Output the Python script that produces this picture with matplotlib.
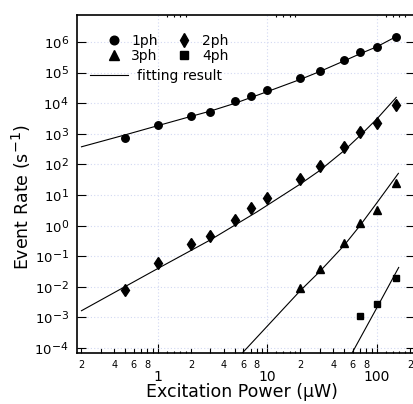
import matplotlib
matplotlib.use("Agg")
import matplotlib.pyplot as plt
from matplotlib.lines import Line2D
from matplotlib.ticker import FixedLocator, FuncFormatter, NullLocator, LogLocator, LogFormatterMathtext, NullFormatter

try:
    import matplotlib._mathtext as _mt
    _mt.SHRINK_FACTOR = 0.82
except Exception:
    pass

plt.rcParams['font.family'] = ['DejaVu Sans']
plt.rcParams['mathtext.fontset'] = 'dejavusans'

# ---------------- data ----------------
p1 = [0.5, 1, 2, 3, 5, 7, 10, 20, 30, 50, 70, 100, 150]
r1 = [740, 1950, 3900, 5300, 11400, 17800, 26000, 65000, 112000, 250000, 470000, 680000, 1450000]

p2 = [0.5, 1, 2, 3, 5, 7, 10, 20, 30, 50, 70, 100, 150]
r2 = [0.0078, 0.06, 0.26, 0.47, 1.57, 3.8, 8.2, 34, 87, 360, 1120, 2300, 9000]

p3 = [20, 30, 50, 70, 100, 150]
r3 = [0.009, 0.038, 0.27, 1.19, 3.2, 25]

p4 = [70, 100, 150]
r4 = [0.0011, 0.0027, 0.020]

fit1_p = [0.2, 0.5, 1, 2, 3, 5, 10, 20, 30, 50, 70, 100, 150]
fit1_r = [376, 920, 1850, 3700, 5500, 9800, 24000, 60000, 108000, 240000, 410000, 700000, 1500000]

fit2_p = [0.2, 1, 3, 8, 20, 30, 50, 70, 100, 150]
fit2_r = [1.66e-3, 0.040, 0.34, 2.8, 23, 63, 280, 870, 3070, 15500]

fit3_p = [5.8, 20, 30, 50, 70, 100, 157]
fit3_r = [6.5e-5, 7.6e-3, 0.0316, 0.224, 1.0, 5.6, 51]

fit4_p = [58, 100, 158]
fit4_r = [6.0e-5, 2.1e-3, 0.043]

x_major = [1, 10, 100]
x_major_labels = ['1', '10', '100']
x_minor = [m * 10 ** e for e in (-1, 0, 1, 2) for m in range(2, 10)]
x_tiny = [m * 10 ** e for e in (-1, 0, 1, 2) for m in (1.2, 1.4, 1.6, 1.8)]
x_minor_labelled = [2, 4, 6, 8]

xlim = (0.182, 225)
ylim = (6.9e-5, 7.6e6)

# ---------------- figure ----------------
W, H = 414, 404
fig = plt.figure(figsize=(W / 100, H / 100), dpi=100)
ax = fig.add_axes([77 / W, 51 / H, 338.5 / W, 338 / H])
ax.set_xscale('log')
ax.set_yscale('log')
ax.set_xlim(*xlim)
ax.set_ylim(*ylim)

ax.grid(True, which='major', color='#d2d8f2', linestyle=(0, (1, 2)), linewidth=0.8, zorder=0)

lw = 0.8
ax.plot(fit1_p, fit1_r, color='black', lw=lw, zorder=2)
ax.plot(fit2_p, fit2_r, color='black', lw=lw, zorder=2)
ax.plot(fit3_p, fit3_r, color='black', lw=lw, zorder=2)
ax.plot(fit4_p, fit4_r, color='black', lw=lw, zorder=2)

ax.plot(p1, r1, 'o', color='black', ms=5.4, zorder=3)
ax.plot(p2, r2, 'd', color='black', ms=6.6, zorder=3)
ax.plot(p3, r3, '^', color='black', ms=5.8, zorder=3)
ax.plot(p4, r4, 's', color='black', ms=5.0, zorder=3)

# ticks
ax.xaxis.set_major_locator(FixedLocator(x_major))
ax.xaxis.set_major_formatter(FuncFormatter(lambda v, pos: x_major_labels[x_major.index(round(v))] if round(v) in x_major else ''))
ax.xaxis.set_minor_locator(FixedLocator([v for v in x_minor if xlim[0] <= v <= xlim[1]]))


def minor_fmt(v, pos):
    lead = round(v / 10 ** int(f"{v:e}".split('e')[1]))
    return str(lead) if lead in x_minor_labelled else ''


ax.xaxis.set_minor_formatter(FuncFormatter(minor_fmt))
ax.yaxis.set_major_locator(LogLocator(base=10, numticks=20))
ax.yaxis.set_major_formatter(LogFormatterMathtext())
ax.yaxis.set_minor_locator(NullLocator())

ax.tick_params(axis='x', which='major', direction='in', length=6.5, width=0.8,
               top=True, bottom=True, labelsize=10, pad=12.3)
ax.tick_params(axis='x', which='minor', direction='in', length=3.5, width=0.8,
               top=True, bottom=True, labelsize=7, pad=5.0)
ax.tick_params(axis='y', which='major', direction='in', length=6.5, width=0.8,
               left=True, right=True, labelsize=9.5, pad=6)

for s in ax.spines.values():
    s.set_linewidth(1.2)

# tiny ticks
ax2 = ax.twiny()
ax2.set_xscale('log')
ax2.set_xlim(*xlim)
ax2.xaxis.set_major_locator(FixedLocator([v for v in x_tiny if xlim[0] <= v <= xlim[1]]))
ax2.xaxis.set_minor_locator(NullLocator())
ax2.xaxis.set_major_formatter(NullFormatter())
ax2.tick_params(axis='x', which='major', direction='in', length=1.6, width=0.8,
                top=True, bottom=True, labeltop=False, labelbottom=False)
for s in ax2.spines.values():
    s.set_visible(False)

# labels
ax.set_xlabel('Excitation Power (μW)', fontsize=12.5)
ax.xaxis.set_label_coords(0.488, -0.088)
ax.xaxis.label.set_va('top')
ax.set_ylabel('Event Rate (s$^{-1}$)', fontsize=12.5)
ax.yaxis.set_label_coords(-0.131, 0.46)

# legends
h1 = Line2D([], [], marker='o', color='black', ls='none', ms=6.2)
h2 = Line2D([], [], marker='d', color='black', ls='none', ms=7.2)
h3 = Line2D([], [], marker='^', color='black', ls='none', ms=6.6)
h4 = Line2D([], [], marker='s', color='black', ls='none', ms=5.8)
hf = Line2D([], [], color='black', lw=lw)

leg1 = ax.legend([h1, h3, h2, h4], ['1ph', '3ph', '2ph', '4ph'], ncol=2, frameon=False,
                 loc='upper left', bbox_to_anchor=(0.0886, 0.943), borderpad=0, borderaxespad=0,
                 handlelength=1.0, handletextpad=0.75, columnspacing=1.42, labelspacing=0.06,
                 fontsize=10)
ax.add_artist(leg1)
leg2 = ax.legend([hf], ['fitting result'], frameon=False, loc='upper left',
                 bbox_to_anchor=(0.0384, 0.8405), borderpad=0, borderaxespad=0,
                 handlelength=2.73, handletextpad=0.65, fontsize=10)

fig.savefig('out.png', dpi=100)
